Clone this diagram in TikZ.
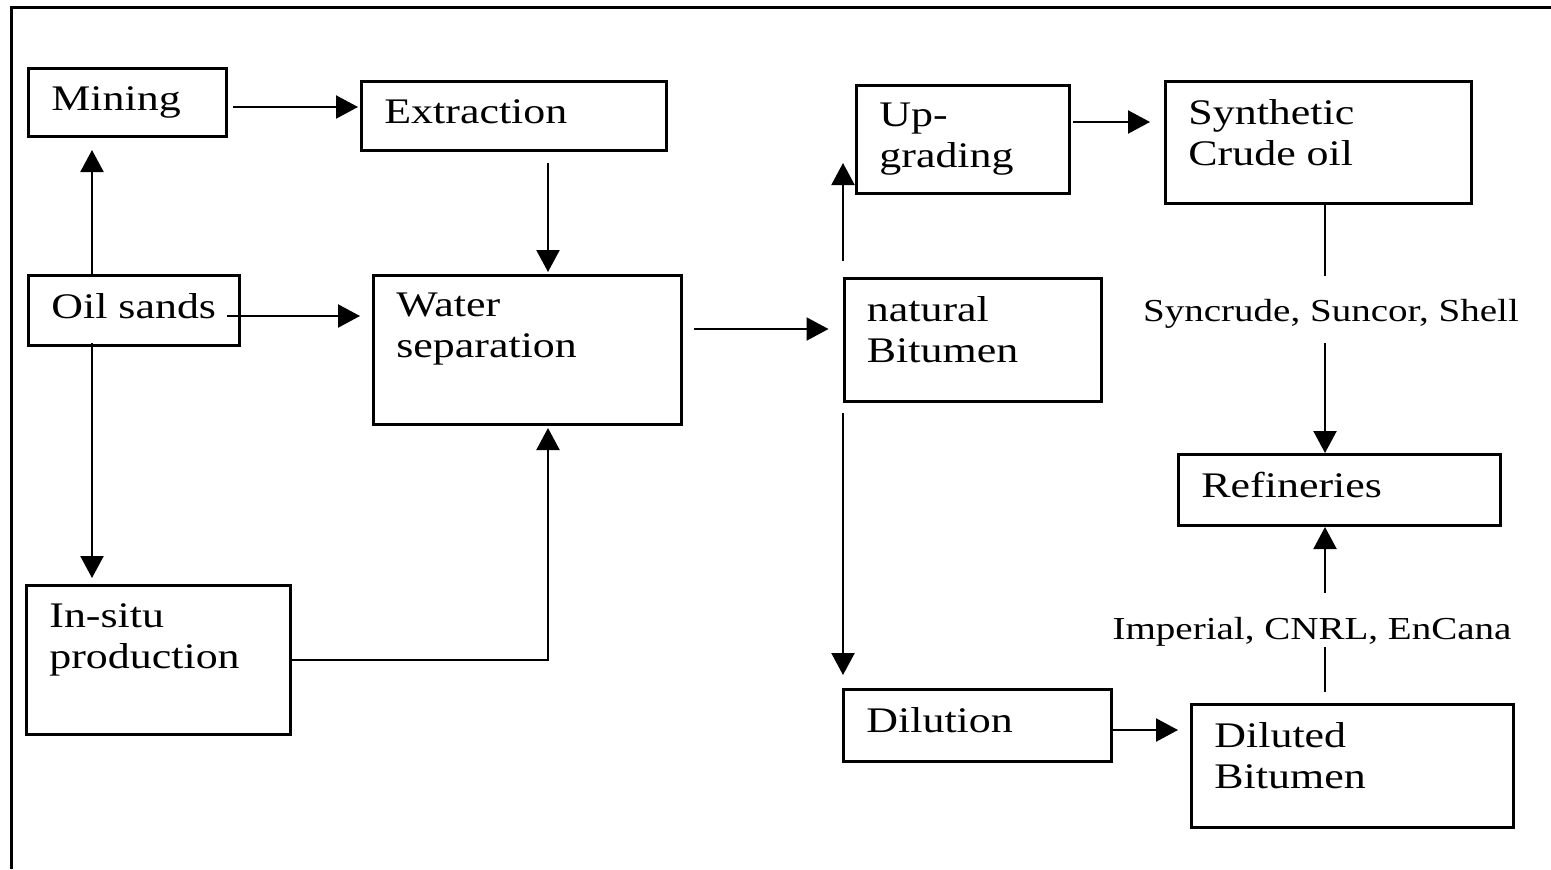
\documentclass[tikz,border=0pt]{standalone}
\usepackage{fontspec}
\setmainfont{Liberation Serif}[FakeStretch=1.22]
\usetikzlibrary{arrows.meta,calc}
\tikzset{
  box/.style={draw,line width=1.5pt,inner sep=0pt},
  boxtext/.style={anchor=north west,align=left,inner sep=0pt,xshift=12pt,yshift=-9.5pt,font=\fontsize{18}{20.5}\selectfont},
  link/.style={line width=1.1pt},
  flow/.style={line width=1.1pt,-{Triangle[length=11pt,width=11.5pt]}},
  firm/.style={inner sep=0pt,anchor=base,font=\fontsize{16}{18}\selectfont}
}
\begin{document}
\begin{tikzpicture}[x=0.5pt,y=-0.5pt]
\useasboundingbox (0,0) rectangle (1551,869);
\draw[line width=1.5pt] (11,869) -- (11,7) -- (1551,7);
\node[box,minimum width=99pt,minimum height=34pt,label={[boxtext]north west:Mining}] (mining) at (127.5,102.5) {};
\node[box,minimum width=152.5pt,minimum height=34.5pt,label={[boxtext]north west:Extraction}] (extraction) at (514,116) {};
\node[box,minimum width=105.5pt,minimum height=35pt,label={[boxtext]north west:Oil sands}] (oilsands) at (134,310.5) {};
\node[box,minimum width=154pt,minimum height=74.5pt,label={[boxtext]north west:Water\\separation}] (water) at (527.5,350) {};
\node[box,minimum width=132pt,minimum height=74.5pt,label={[boxtext]north west:In-situ\\production}] (insitu) at (158.5,660) {};
\node[box,minimum width=106.5pt,minimum height=54pt,label={[boxtext]north west:Up-\\grading}] (upgrading) at (963,139.5) {};
\node[box,minimum width=153pt,minimum height=61pt,label={[boxtext]north west:Synthetic\\Crude oil}] (synthetic) at (1318.5,142.5) {};
\node[box,minimum width=128.5pt,minimum height=61.5pt,label={[boxtext]north west:natural\\Bitumen}] (bitumen) at (972.5,340) {};
\node[box,minimum width=161pt,minimum height=35.5pt,label={[boxtext]north west:Refineries}] (refineries) at (1339.5,490) {};
\node[box,minimum width=134pt,minimum height=36pt,label={[boxtext]north west:Dilution}] (dilution) at (977.5,725.5) {};
\node[box,minimum width=161pt,minimum height=61.5pt,label={[boxtext]north west:Diluted\\Bitumen}] (diluted) at (1352.5,766) {};
\node[firm,text height=22.5pt,text depth=11pt] (syncrude) at (1331,321) {Syncrude, Suncor, Shell};
\node[firm,text height=23pt,text depth=4pt] (imperial) at (1312,639) {Imperial, CNRL, EnCana};
\draw[flow] ($(mining.east)+(5,4.5)$) -- ($(extraction.west)+(-2,-9)$);
\draw[flow] ($(oilsands.north)+(-42,0)$) -- ($(mining.south)+(-35.5,12)$);
\draw[flow] ($(oilsands.south)+(-42,-4)$) -- ($(insitu.north)+(-66.5,-6)$);
\draw[flow] ($(oilsands.east)+(-14,5.5)$) -- ($(water.west)+(-12,-34)$);
\draw[flow] ($(extraction.south)+(34,11)$) -- ($(water.north)+(20.5,-2)$);
\draw[flow] (insitu.east) -| ($(water.south)+(20.5,2)$);
\draw[flow] ($(water.east)+(11,-21)$) -- ($(bitumen.west)+(-14,-11)$);
\draw[flow] ($(bitumen.north)+(-129.5,-16)$) -- ($(upgrading.west)+(-12,23.5)$);
\draw[flow] ($(bitumen.south)+(-129.5,10)$) -- ($(dilution.north)+(-134.5,-13)$);
\draw[flow] ($(upgrading.east)+(2,-17.5)$) -- ($(synthetic.west)+(-14,-20.5)$);
\draw[flow] ($(dilution.east)+(0,4.5)$) -- ($(diluted.west)+(-12,-36)$);
\draw[link] ($(synthetic.south)+(6.5,0)$) -- ($(syncrude.north)+(-6,0)$);
\draw[flow] ($(syncrude.south)+(-6,0)$) -- ($(refineries.north)+(-14.5,0)$);
\draw[link] ($(diluted.north)+(-27.5,-11)$) -- ($(imperial.south)+(13,0)$);
\draw[flow] ($(imperial.north)+(13,0)$) -- ($(refineries.south)+(-14.5,0)$);
\end{tikzpicture}
\end{document}
